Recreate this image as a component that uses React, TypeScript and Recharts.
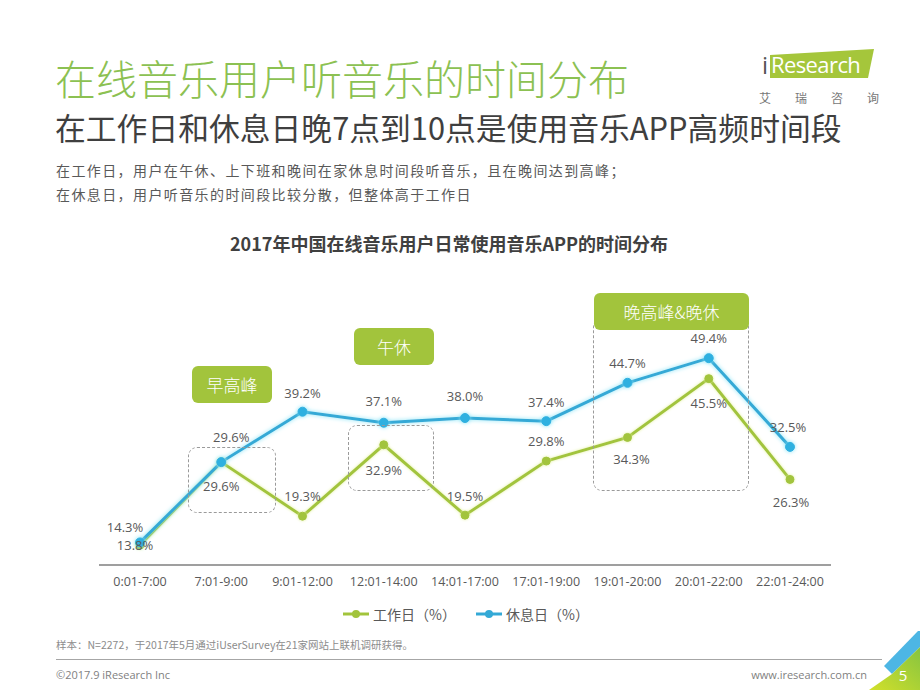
import { LineChart, Line, XAxis, YAxis, Legend, LabelList } from 'recharts';

const periods = [
  '0:01-7:00',
  '7:01-9:00',
  '9:01-12:00',
  '12:01-14:00',
  '14:01-17:00',
  '17:01-19:00',
  '19:01-20:00',
  '20:01-22:00',
  '22:01-24:00',
];
const workday = [13.8, 29.6, 19.3, 32.9, 19.5, 29.8, 34.3, 45.5, 26.3];
const restday = [14.3, 29.6, 39.2, 37.1, 38.0, 37.4, 44.7, 49.4, 32.5];

const seriesNames = ['工作日（%）', '休息日（%）'];

// label nudges (dx, dy) relative to each point
const workLabelOffset = [[-5, 0], [0, 24], [0, -20], [0, 25], [0, -19], [0, -20], [4, 22], [0, 24], [1, 23]];
const restLabelOffset = [[-15, -15], [10, -25], [0, -19], [0, -22], [0, -22], [0, -19], [0, -20], [0, -20], [-2, -20]];

const GREEN = '#a2c43c';
const BLUE = '#34a9d6';
const TEXT = '#595959';
const CJK = '"Noto Sans CJK SC", "Noto Sans", sans-serif';
const NUM = '"Open Sans", "Noto Sans CJK SC", sans-serif';

const data = periods.map((p, i) => ({ period: p, work: workday[i], rest: restday[i] }));

const makeLabel = (offsets: number[][]) => (props: any) => {
  const { x, y, value, index } = props;
  const [dx, dy] = offsets[index] || [0, -18];
  return (
    <text
      x={Number(x) + dx}
      y={Number(y) + dy}
      textAnchor="middle"
      dominantBaseline="central"
      fill={TEXT}
      fontSize={13}
      fontFamily={NUM}
    >
      {Number(value).toFixed(1)}%
    </text>
  );
};

const LegendMark = ({ color }: { color: string }) => (
  <svg width={26} height={10} style={{ marginRight: 4 }}>
    <line x1={0} y1={5} x2={26} y2={5} stroke={color} strokeWidth={3} />
    <circle cx={13} cy={5} r={4} fill={color} />
  </svg>
);

const renderLegend = () => (
  <div style={{ display: 'flex', justifyContent: 'center', paddingLeft: 12, fontFamily: CJK, fontSize: 14, color: TEXT }}>
    {[GREEN, BLUE].map((c, i) => (
      <div key={i} style={{ display: 'flex', alignItems: 'center', marginRight: i === 0 ? 20 : 0 }}>
        <LegendMark color={c} />
        <span>{seriesNames[i]}</span>
      </div>
    ))}
  </div>
);

const Pill = ({ left, top, width, text }: { left: number; top: number; width: number; text: string }) => (
  <div
    style={{
      position: 'absolute', left, top, width, height: 37, background: GREEN, borderRadius: 6,
      color: '#fff', fontFamily: CJK, fontSize: 17, fontWeight: 300, display: 'flex', alignItems: 'center', justifyContent: 'center',
    }}
  >
    {text}
  </div>
);

const DashBox = ({ left, top, width, height }: { left: number; top: number; width: number; height: number }) => (
  <div
    style={{
      position: 'absolute', left, top, width, height, border: '1.5px dashed #9a9a9a', borderRadius: 9, boxSizing: 'border-box',
    }}
  />
);

export default function App() {
  return (
    <div style={{ position: 'fixed', left: 0, top: 0, width: 920, height: 690, background: '#fff', overflow: 'hidden' }}>
      {/* header */}
      <div style={{ position: 'absolute', left: 55, top: 57, fontFamily: CJK, fontSize: 41, fontWeight: 300, lineHeight: 1, color: '#8cc152' }}>
        在线音乐用户听音乐的时间分布
      </div>
      <div style={{ position: 'absolute', left: 55, top: 112, fontFamily: CJK, fontSize: 30.8, lineHeight: 1, color: '#3f3f3f' }}>
        在工作日和休息日晚7点到10点是使用音乐APP高频时间段
      </div>
      <div style={{ position: 'absolute', left: 56, top: 158, fontFamily: CJK, fontSize: 14, lineHeight: '24px', letterSpacing: 1.4, color: TEXT }}>
        <div>在工作日，用户在午休、上下班和晚间在家休息时间段听音乐，且在晚间达到高峰；</div>
        <div>在休息日，用户听音乐的时间段比较分散，但整体高于工作日</div>
      </div>

      {/* logo */}
      <svg style={{ position: 'absolute', left: 0, top: 0 }} width={920} height={120}>
        <polygon points="770,55 874,49 868,78 770,78" fill="#a5c63b" />
        <text x={762} y={74} fontFamily={NUM} fontSize={24} fill="#555">i</text>
        <text x={771} y={73} fontFamily={NUM} fontSize={22} letterSpacing={-0.6} fill="#fff">Research</text>
        {['艾', '瑞', '咨', '询'].map((c, i) => (
          <text key={c} x={765 + i * 36} y={97} textAnchor="middle" dominantBaseline="central" fontFamily={CJK} fontSize={12} fill="#777">
            {c}
          </text>
        ))}
      </svg>

      {/* chart title */}
      <div style={{ position: 'absolute', left: 0, top: 234, width: 898, textAlign: 'center', fontFamily: CJK, fontSize: 18, fontWeight: 700, lineHeight: 1, color: '#404040' }}>
        2017年中国在线音乐用户日常使用音乐APP的时间分布
      </div>

      <div style={{ position: 'absolute', left: 0, top: 0 }}>
        <LineChart width={920} height={690} data={data} margin={{ top: 355, right: 89, bottom: 95, left: 99 }}>
          <defs>
            <filter id="glowBlue" filterUnits="userSpaceOnUse" x={0} y={0} width={920} height={690}>
              <feGaussianBlur in="SourceAlpha" stdDeviation={2} result="blur" />
              <feFlood floodColor="#86e4f7" />
              <feComposite in2="blur" operator="in" result="halo" />
              <feMerge>
                <feMergeNode in="halo" />
                <feMergeNode in="SourceGraphic" />
              </feMerge>
            </filter>
            <filter id="glowGreen" filterUnits="userSpaceOnUse" x={0} y={0} width={920} height={690}>
              <feGaussianBlur in="SourceAlpha" stdDeviation={1.5} result="blur" />
              <feFlood floodColor="#e4f2a0" />
              <feComposite in2="blur" operator="in" result="halo" />
              <feMerge>
                <feMergeNode in="halo" />
                <feMergeNode in="SourceGraphic" />
              </feMerge>
            </filter>
          </defs>
          <XAxis
            dataKey="period"
            interval={0}
            padding={{ left: 41, right: 41 }}
            axisLine={{ stroke: '#7f7f7f', strokeWidth: 1.5 }}
            tickLine={false}
            tickSize={6}
            tickMargin={6}
            tick={{ fill: TEXT, fontSize: 12.5, fontFamily: NUM }}
          />
          <YAxis hide type="number" domain={[10, 50]} />
          <Legend verticalAlign="middle" align="center" layout="horizontal" wrapperStyle={{ top: 604, left: 0, width: 920 }} content={renderLegend} />
          <Line
            dataKey="work"
            name={seriesNames[0]}
            stroke={GREEN}
            strokeWidth={3}
            filter="url(#glowGreen)"
            dot={{ r: 4, fill: GREEN, stroke: GREEN, strokeWidth: 1 }}
            isAnimationActive={false}
          >
            <LabelList dataKey="work" content={makeLabel(workLabelOffset)} />
          </Line>
          <Line
            dataKey="rest"
            name={seriesNames[1]}
            stroke={BLUE}
            strokeWidth={3}
            filter="url(#glowBlue)"
            dot={{ r: 4.5, fill: '#2fb0e0', stroke: '#2fb0e0', strokeWidth: 1 }}
            isAnimationActive={false}
          >
            <LabelList dataKey="rest" content={makeLabel(restLabelOffset)} />
          </Line>
        </LineChart>
      </div>

      {/* annotations */}
      <DashBox left={188} top={447} width={88} height={66} />
      <DashBox left={348} top={425} width={86} height={66} />
      <DashBox left={593} top={318} width={156} height={173} />
      <Pill left={192} top={366} width={80} text="早高峰" />
      <Pill left={354} top={328} width={80} text="午休" />
      <Pill left={594} top={293} width={155} text="晚高峰&晚休" />

      {/* footer */}
      <div style={{ position: 'absolute', left: 56, top: 639, fontFamily: CJK, fontSize: 10.5, lineHeight: 1.2, color: '#8c8c8c' }}>
        样本：N=2272，于2017年5月通过iUserSurvey在21家网站上联机调研获得。
      </div>
      <div style={{ position: 'absolute', left: 56, top: 659, width: 826, height: 1, background: '#a6a6a6' }} />
      <div style={{ position: 'absolute', left: 56, top: 668, fontFamily: NUM, fontSize: 11, lineHeight: 1.2, color: '#7f7f7f' }}>
        ©2017.9 iResearch Inc
      </div>
      <div style={{ position: 'absolute', right: 53, top: 668, fontFamily: NUM, fontSize: 11, lineHeight: 1.2, color: '#7f7f7f' }}>
        www.iresearch.com.cn
      </div>
      <svg style={{ position: 'absolute', left: 0, top: 0 }} width={920} height={690}>
        <defs>
          <linearGradient id="cornerGrad" x1="0" y1="1" x2="1" y2="0">
            <stop offset="0%" stopColor="#d2e02a" />
            <stop offset="100%" stopColor="#86c440" />
          </linearGradient>
        </defs>
        <polygon points="884,666 918,631 920,631 920,647 892,674" fill="#4db6e4" />
        <polygon points="869,690 892,674 920,647 920,690" fill="url(#cornerGrad)" />
        <text x={903} y={675} textAnchor="middle" dominantBaseline="central" fontFamily={NUM} fontSize={15} fill="#fff">5</text>
      </svg>
    </div>
  );
}
